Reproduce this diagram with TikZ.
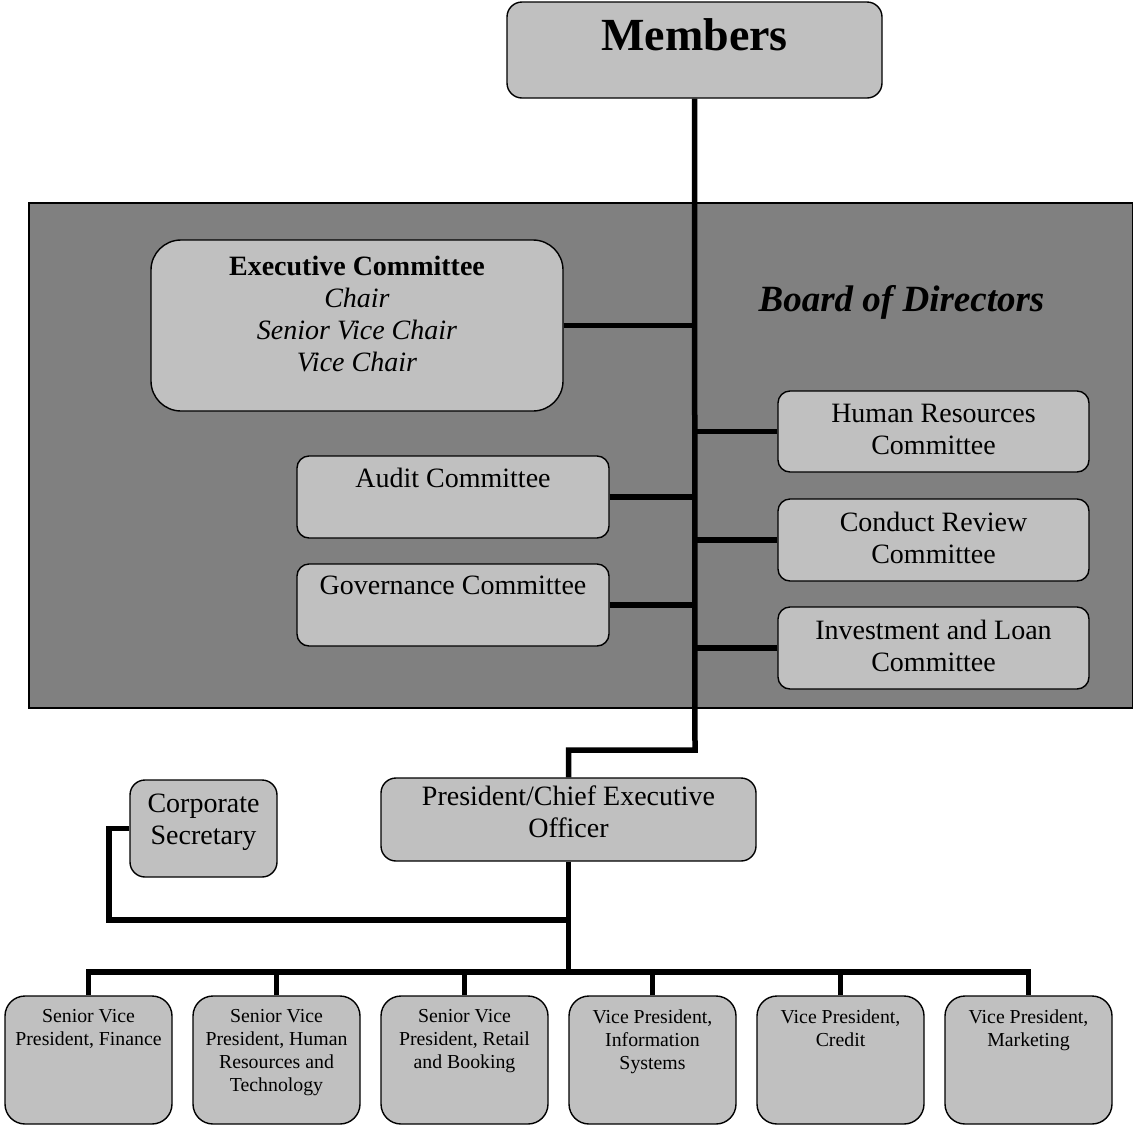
\documentclass[tikz,border=0pt]{standalone}
\usepackage{fontspec}
\setmainfont{Liberation Serif}
\definecolor{boxgray}{HTML}{C0C0C0}
\definecolor{boardgray}{HTML}{808080}
\newcommand\fmid{\fontsize{28}{32}\selectfont}
\newcommand\fsmall{\fontsize{19.8}{23}\selectfont}
\begin{document}
\begin{tikzpicture}[x=1pt,y=-1pt,
  box/.style={draw=black, line width=1.4pt, fill=boxgray, rounded corners=#1, inner sep=0pt},
  box/.default=12pt,
  board/.style={draw=black, line width=1.2pt, fill=boardgray, inner sep=0pt},
  conn/.style={draw=black, line width=5.5pt, line join=miter},
  txt/.style={inner sep=0pt, align=center, font=\fmid, anchor=north},
  stxt/.style={inner sep=0pt, align=center, font=\fsmall, anchor=north},
  bottombox/.style={box=20pt, minimum width=167pt, minimum height=128pt}
]
\useasboundingbox (0,0) rectangle (1133,1128);

% board background
\node[board, minimum width=1104pt, minimum height=505pt] (board) at (581,455.5) {};
\node[inner sep=0pt, anchor=base, font=\fontsize{37}{42}\selectfont\bfseries\itshape] (boardlbl) at (901.5,311) {Board of Directors};

% boxes
\node[box=15pt, minimum width=375pt, minimum height=96pt] (members) at (694.5,50) {};
\node[inner sep=0pt, anchor=base, font=\fontsize{46}{50}\selectfont\bfseries] (memberst) at (694.5,50) {Members};

\node[box=30pt, minimum width=412pt, minimum height=171pt] (exec) at (357,325.5) {};
\node[txt] (exect) at (357,256) {\textbf{Executive Committee}\\ \textit{Chair}\\ \textit{Senior Vice Chair}\\ \textit{Vice Chair}};

\node[box, minimum width=311pt, minimum height=81pt] (hr) at (933.5,431.5) {};
\node[txt] (hrt) at (933.5,404) {Human Resources\\ Committee};
\node[box, minimum width=311pt, minimum height=82pt] (conduct) at (933.5,540) {};
\node[txt] (conductt) at (933.5,512) {Conduct Review\\ Committee};
\node[box, minimum width=311pt, minimum height=82pt] (invest) at (933.5,648) {};
\node[txt] (investt) at (933.5,620) {Investment and Loan\\ Committee};

\node[box, minimum width=312pt, minimum height=82pt] (audit) at (453,497) {};
\node[txt] (auditt) at (453,468) {Audit Committee};
\node[box, minimum width=312pt, minimum height=82pt] (gov) at (453,605) {};
\node[txt] (govt) at (453,576) {Governance Committee};

\node[box=15pt, minimum width=375pt, minimum height=83pt] (ceo) at (568.5,819.5) {};
\node[txt] (ceot) at (568.5,786) {President/Chief Executive\\ Officer};

\node[box=15pt, minimum width=147pt, minimum height=97pt] (corp) at (203.5,828.5) {};
\node[txt] (corpt) at (203.5,794) {Corporate\\ Secretary};

\node[bottombox] (b1) at (88.5,1060) {};
\node[stxt] (b1t) at (88.5,1009.5) {Senior Vice\\ President, Finance};
\node[bottombox] (b2) at (276.5,1060) {};
\node[stxt] (b2t) at (276.5,1009.5) {Senior Vice\\ President, Human\\ Resources and\\ Technology};
\node[bottombox] (b3) at (464.5,1060) {};
\node[stxt] (b3t) at (464.5,1009.5) {Senior Vice\\ President, Retail\\ and Booking};
\node[bottombox] (b4) at (652.5,1060) {};
\node[stxt] (b4t) at (652.5,1009.5) {Vice President,\\ Information\\ Systems};
\node[bottombox] (b5) at (840.5,1060) {};
\node[stxt] (b5t) at (840.5,1009.5) {Vice President,\\ Credit};
\node[bottombox] (b6) at (1028.5,1060) {};
\node[stxt] (b6t) at (1028.5,1009.5) {Vice President,\\ Marketing};

% connectors
\coordinate (trunkbot) at (695,750);
\coordinate (bus) at (569,972);
\coordinate (csbus) at (109,920);
\draw[conn] (members.south) -- (trunkbot) -| (ceo.north);
\draw[conn] (exec.east) -- (exec.east -| trunkbot);
\draw[conn] (audit.east) -- (audit.east -| trunkbot);
\draw[conn] (gov.east) -- (gov.east -| trunkbot);
\draw[conn] (hr.west) -- (hr.west -| trunkbot);
\draw[conn] (conduct.west) -- (conduct.west -| trunkbot);
\draw[conn] (invest.west) -- (invest.west -| trunkbot);
\draw[conn] (ceo.south) -- (ceo.south |- bus);
\draw[conn] (corp.west) -| (csbus) -- (csbus -| ceo.south);
\draw[conn] (b1.north) -- (b1.north |- bus) -- (b6.north |- bus) -- (b6.north);
\foreach \b in {b2,b3,b4,b5} \draw[conn] (\b.north) -- (\b.north |- bus);
\end{tikzpicture}
\end{document}
